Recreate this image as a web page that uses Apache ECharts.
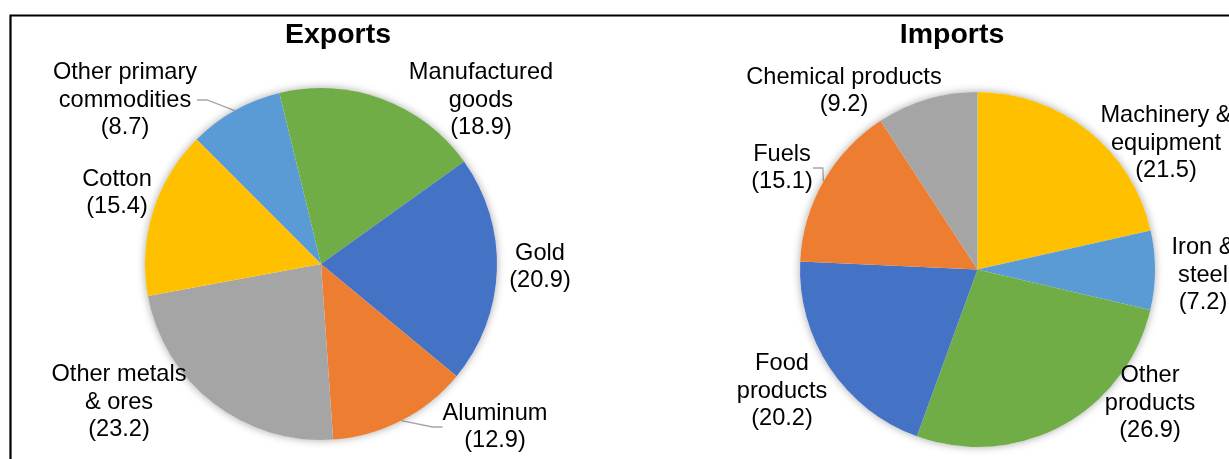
<!DOCTYPE html>
<html>
<head>
<meta charset="utf-8">
<script src="https://cdn.jsdelivr.net/npm/echarts@6/dist/echarts.min.js"></script>
<style>
html,body{margin:0;padding:0;background:#fff;}
#c{width:1229px;height:459px;}
</style>
</head>
<body>
<div id="c"></div>
<script>
// ---- Data ----
const exportCategories = ["Other primary\ncommodities", "Manufactured\ngoods", "Gold", "Aluminum", "Other metals\n& ores", "Cotton"];
const exportValues = [8.7, 18.9, 20.9, 12.9, 23.2, 15.4];
const importCategories = ["Machinery &\nequipment", "Iron &\nsteel", "Other\nproducts", "Food\nproducts", "Fuels", "Chemical products"];
const importValues = [21.5, 7.2, 26.9, 20.2, 15.1, 9.2];
const titles = ["Exports", "Imports"];

// ---- Styles / layout ----
const exportColors = ["#5B9BD5", "#70AD47", "#4472C4", "#ED7D31", "#A5A5A5", "#FFC000"];
const importColors = ["#FFC000", "#5B9BD5", "#70AD47", "#4472C4", "#ED7D31", "#A5A5A5"];
const exportLeaders = [true, false, false, true, false, false];
const importLeaders = [false, false, false, false, true, false];
const exportLabelPos = [[125, 100], [481, 100], [540, 267], [495, 427], [119, 402], [117, 193]];
const importLabelPos = [[1166, 143], [1203, 275], [1150, 403], [782, 391], [782, 168], [844, 91]];
const FONT = '"Liberation Sans", Arial, sans-serif';

function buildData(cats, vals, colors, leaders) {
  return cats.map((c, i) => ({
    name: c,
    value: vals[i],
    itemStyle: { color: colors[i] },
    labelLine: { show: leaders[i] }
  }));
}

function shadowDisk(center, radius) {
  return {
    type: 'pie', silent: true, center: center, radius: radius,
    left: 0, top: 0, width: 3000, height: 3000,
    label: { show: false }, labelLine: { show: false },
    itemStyle: { color: '#ffffff', shadowBlur: 9, shadowColor: 'rgba(0,0,0,0.35)' },
    emphasis: { disabled: true },
    animation: false,
    data: [{ value: 1, name: '' }]
  };
}

function dataPie(center, radius, startAngle, data, pos) {
  return {
    type: 'pie', center: center, radius: radius, startAngle: startAngle,
    left: 0, top: 0, width: 3000, height: 3000,
    clockwise: true, animation: false,
    emphasis: { disabled: true },
    itemStyle: { borderWidth: 0 },
    label: {
      show: true, position: 'outside', overflow: 'none',
      formatter: p => p.name + '\n(' + Number(p.value).toFixed(1) + ')',
      fontFamily: FONT, fontSize: 23.6, lineHeight: 27.5, color: '#000', align: 'center'
    },
    labelLine: { show: false, length: 10, length2: 10, lineStyle: { color: '#a6a6a6', width: 1.3 } },
    labelLayout: function (params) {
      const p = pos[params.dataIndex];
      return { x: p[0], y: p[1], align: 'center', verticalAlign: 'middle', hideOverlap: false, moveOverlap: null };
    },
    data: data
  };
}

const chart = echarts.init(document.getElementById('c'), null, { renderer: 'canvas' });
chart.setOption({
  backgroundColor: '#ffffff',
  animation: false,
  graphic: [
    { type: 'rect', shape: { x: 10.5, y: 15.5, width: 1400, height: 600 },
      style: { fill: 'none', stroke: '#000', lineWidth: 2.2 }, z: 10 },
    { type: 'text', x: 338, y: 35, style: { text: titles[0], font: 'bold 28.5px ' + FONT, fill: '#000', textAlign: 'center', textVerticalAlign: 'middle' } },
    { type: 'text', x: 952, y: 35, style: { text: titles[1], font: 'bold 28.5px ' + FONT, fill: '#000', textAlign: 'center', textVerticalAlign: 'middle' } }
  ],
  series: [
    shadowDisk([321, 264], 176),
    dataPie([321, 264], 176, 135, buildData(exportCategories, exportValues, exportColors, exportLeaders), exportLabelPos),
    shadowDisk([977.5, 269.5], 177.5),
    dataPie([977.5, 269.5], 177.5, 90, buildData(importCategories, importValues, importColors, importLeaders), importLabelPos)
  ]
});
</script>
</body>
</html>
